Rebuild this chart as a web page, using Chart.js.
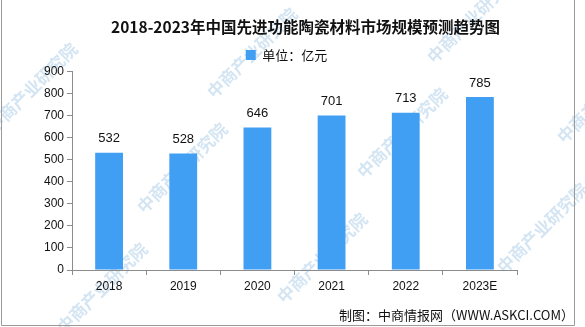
<!DOCTYPE html>
<html>
<head>
<meta charset="utf-8">
<script src="https://cdn.jsdelivr.net/npm/chart.js@4.4.1/dist/chart.umd.min.js"></script>
<style>
  html, body { margin: 0; padding: 0; background: #fff; }
  #wrap { width: 585px; height: 327px; position: relative; }
</style>
</head>
<body>
<div id="wrap"><canvas id="marketChart"></canvas></div>
<script>
// data
const years = ["2018", "2019", "2020", "2021", "2022", "2023E"];
const marketSize = [532, 528, 646, 701, 713, 785];
const yTicks = [0, 100, 200, 300, 400, 500, 600, 700, 800, 900];

const barColor = "#409EF3";
const axisColor = "#8c8c8c";

// faint "中商产业研究院" watermarks + outer frame
const backdrop = {
  id: "backdrop",
  afterLayout(chart) {
    // the legend sits a little left of the title in the original
    chart.legend.left -= 19;
    chart.legend.right -= 19;
  },
  beforeDraw(chart) {
    const ctx = chart.ctx;
    ctx.save();
    ctx.fillStyle = "#fff";
    ctx.fillRect(0, 0, chart.width, chart.height);
    ctx.font = "bold 17px 'Noto Sans CJK SC'";
    ctx.fillStyle = "rgba(175, 205, 232, 0.55)";
    const spots = [[-10, 130], [60, 330], [210, 95], [280, 300], [430, 60], [500, 270], [140, 210], [360, 175], [560, 140]];
    spots.forEach(([x, y]) => {
      ctx.save();
      ctx.translate(x, y);
      ctx.rotate(-Math.PI / 4);
      ctx.fillText("中商产业研究院", 0, 0);
      ctx.restore();
    });
    ctx.restore();
  },
  afterDraw(chart) {
    const ctx = chart.ctx;
    ctx.save();
    ctx.strokeStyle = "#9a9a9a";
    ctx.lineWidth = 1;
    ctx.beginPath();
    ctx.moveTo(1.5, 0);
    ctx.lineTo(1.5, 325.5);
    ctx.lineTo(574.5, 325.5);
    ctx.lineTo(574.5, 0);
    ctx.stroke();
    ctx.restore();
  }
};

// value labels above each bar
const barLabels = {
  id: "barLabels",
  afterDatasetsDraw(chart) {
    const ctx = chart.ctx;
    const meta = chart.getDatasetMeta(0);
    ctx.save();
    ctx.font = "13px 'Liberation Sans'";
    ctx.fillStyle = "#111";
    ctx.textAlign = "center";
    ctx.textBaseline = "middle";
    meta.data.forEach((bar, i) => {
      ctx.fillText(String(marketSize[i]), bar.x, bar.y - 14);
    });
    ctx.restore();
  }
};

const ctx = document.getElementById("marketChart").getContext("2d");
const chart = new Chart(ctx, {
  type: "bar",
  data: {
    labels: years,
    datasets: [
      {
        label: "单位：亿元",
        data: marketSize,
        backgroundColor: barColor,
        barPercentage: 0.75,
        categoryPercentage: 0.5,
      },
    ],
  },
  options: {
    responsive: true,
    maintainAspectRatio: false,
    animation: false,
    layout: {
      padding: { left: 37, right: 11, top: 0, bottom: 0 },
    },
    plugins: {
      title: {
        display: true,
        text: "2018-2023年中国先进功能陶瓷材料市场规模预测趋势图",
        color: "#111",
        font: { family: "'Noto Sans CJK SC'", size: 15.5, weight: "bold" },
        padding: { top: 18, bottom: 8 },
      },
      legend: {
        display: true,
        labels: {
          color: "#111",
          font: { family: "'Noto Sans CJK SC'", size: 13 },
          boxWidth: 10,
          boxHeight: 10,
          padding: 4,
        },
      },
      subtitle: {
        display: true,
        position: "bottom",
        align: "end",
        text: "制图：中商情报网（WWW.ASKCI.COM）",
        color: "#111",
        font: { family: "'Noto Sans CJK SC'", size: 13 },
        padding: { top: 10, bottom: 4 },
      },
      tooltip: { enabled: false },
    },
    scales: {
      x: {
        border: { color: axisColor },
        grid: {
          drawOnChartArea: false,
          drawTicks: true,
          tickLength: 5,
          color: axisColor,
        },
        ticks: {
          color: "#111",
          font: { family: "'Liberation Sans'", size: 12 },
          padding: 4,
        },
      },
      y: {
        min: 0,
        max: 900,
        afterFit(scale) {
          scale.width = 35;
        },
        afterBuildTicks(scale) {
          scale.ticks = yTicks.map((v) => ({ value: v }));
        },
        border: { color: axisColor },
        grid: {
          drawOnChartArea: false,
          drawTicks: true,
          tickLength: 5,
          color: axisColor,
        },
        ticks: {
          color: "#111",
          font: { family: "'Liberation Sans'", size: 12 },
          padding: 3,
        },
      },
      // empty right-hand spacer so the plot ends where the original does
      yRight: {
        position: "right",
        min: 0,
        max: 900,
        afterFit(scale) {
          scale.width = 57;
        },
        border: { display: false },
        grid: { display: false },
        ticks: { display: false },
      },
    },
  },
  plugins: [backdrop, barLabels],
});
</script>
</body>
</html>
